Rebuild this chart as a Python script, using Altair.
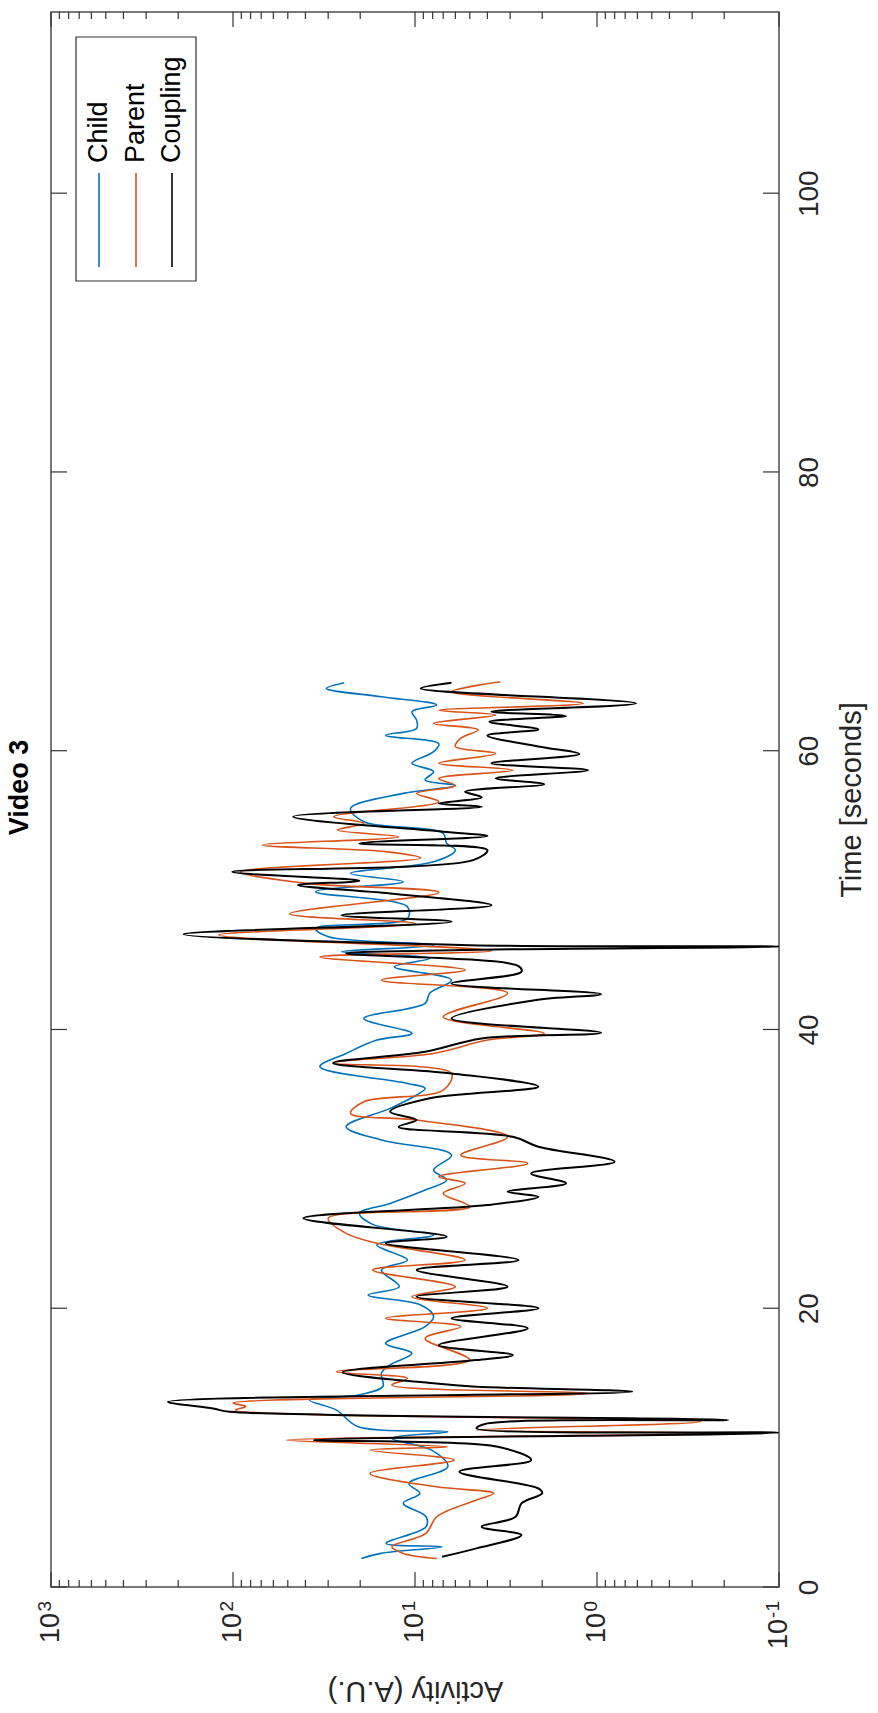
import altair as alt
import pandas as pd

# ---------------- data ----------------
child_t = [2.05, 2.41, 2.89, 3.13, 4.32, 5.04, 6.0, 6.72, 7.43, 8.63,
           9.82, 10.66, 11.14, 11.5, 12.69, 13.41, 13.8, 14.4, 15.33, 15.93,
           16.77, 17.48, 18.68, 19.4, 20.23, 20.95, 21.55, 22.74, 23.46, 24.54,
           25.25, 26.0, 26.81, 27.52, 28.48, 29.2, 29.91, 30.99, 32.07, 33.02,
           34.34, 35.3, 35.77, 36.13, 37.33, 38.28, 39.24, 39.72, 40.79, 41.87,
           42.6, 43.54, 44.5, 45.1, 45.57, 46.05, 46.65, 47.25, 47.97, 48.8,
           49.88, 50.6, 51.2, 52.03, 52.87, 53.35, 54.07, 54.9, 55.86, 56.94,
           57.5, 57.9, 58.5, 59.1, 59.93, 60.5, 61.1, 61.6, 62.2, 62.8,
           63.28, 63.87, 64.47, 64.88]
child_v = [19.7, 15.4, 7.1, 14.4, 8.7, 8.7, 11.6, 9.4, 10.8, 6.6,
           8.1, 13.4, 6.6, 20.5, 27, 38, 20, 15, 15.3, 13.7,
           10.4, 14.5, 8.8, 7.9, 9.3, 18.1, 12.2, 15.3, 11.0, 16.2,
           7.9, 17, 20.2, 13.7, 8.8, 6.7, 7.9, 6.3, 15.3, 23.9,
           13.7, 9.8, 8.8, 11.0, 33.3, 23.9, 16.2, 10.4, 19.1, 8.8,
           8.3, 6.3, 13.0, 8.3, 25.3, 7.9, 29.9, 35.2, 11.0, 11.0,
           35.2, 11.6, 22.6, 7.9, 6.0, 6.7, 7.0, 19.1, 22.6, 11.6,
           6.0, 8.8, 7.9, 10.4, 7.9, 7.4, 14.5, 9.8, 9.8, 10.4,
           7.6, 15.3, 30.7, 24.5]

parent_t = [2.05, 2.41, 2.89, 3.85, 5.04, 6.24, 6.72, 7.19, 8.15, 9.11,
            9.82, 10.06, 10.54, 11.02, 11.26, 11.86, 12.69, 12.95, 13.2, 13.89,
            14.49, 14.97, 15.45, 16.29, 17.84, 18.68, 19.28, 20.0, 20.83, 21.55,
            22.74, 23.46, 24.66, 25.37, 26.45, 27.28, 28.24, 28.96, 29.44, 30.39,
            30.99, 32.3, 33.5, 33.98, 34.82, 35.65, 36.85, 37.6, 38.28, 39.24,
            39.72, 40.91, 42.6, 43.54, 44.26, 45.2, 45.65, 46.77, 47.6, 48.3,
            49.83, 50.48, 51.31, 52.3, 52.76, 53.23, 53.83, 54.31, 54.79, 55.27,
            56.34, 56.94, 57.5, 58.0, 58.6, 59.1, 59.8, 60.3, 60.9, 61.5,
            61.96, 62.56, 62.9, 63.4, 64.23, 64.95]
parent_v = [7.6, 11.6, 13.4, 8.7, 7.6, 4.6, 3.7, 7.6, 17.7, 6.1,
            17.7, 6.6, 51, 0.19, 4.6, 0.27, 97, 85, 100, 1.12,
            13.4, 11.0, 27, 5.0, 8.8, 5.6, 14.5, 4.0, 10.4, 6.0,
            17.1, 5.3, 16.2, 23.9, 30, 5.0, 7.0, 5.3, 7.4, 2.4,
            5.6, 3.1, 9.8, 22.6, 19.1, 7.0, 6.3, 28, 7.9, 4.0,
            1.95, 7.0, 3.1, 15.3, 5.3, 33.3, 3.8, 120, 10, 49,
            7.4, 39.4, 91, 9.3, 14.5, 69, 12.3, 26.7, 19.1, 28,
            7.4, 9.8, 6.0, 7.4, 2.9, 7.4, 3.6, 6.0, 5.6, 4.5,
            7.9, 3.6, 7.4, 1.19, 6.3, 3.4]

coupling_t = [2.17, 2.77, 3.73, 4.32, 5.04, 6.0, 6.72, 7.07, 8.27, 9.11,
              10.06, 10.54, 11.07, 11.38, 11.74, 11.98, 12.57, 12.81, 13.29, 14.01,
              14.37, 14.61, 15.4, 16.28, 16.65, 17.36, 18.56, 19.28, 20.0, 20.83,
              21.55, 22.74, 23.46, 24.66, 25.13, 26.45, 27.4, 28.0, 28.36, 28.96,
              29.67, 30.51, 31.59, 32.3, 33.02, 33.5, 34.1, 35.06, 35.9, 36.85,
              37.6, 38.4, 39.36, 39.76, 40.79, 42.1, 42.54, 43.3, 44.14, 44.55,
              45.45, 45.7, 45.95, 46.05, 46.84, 47.73, 48.2, 48.92, 49.76, 50.36,
              50.67, 51.31, 52.15, 52.87, 53.35, 53.88, 54.19, 55.27, 55.98, 56.22,
              56.65, 57.06, 57.6, 58.02, 58.6, 59.1, 59.76, 60.3, 61.1, 61.53,
              62.08, 62.49, 62.8, 63.4, 64.47, 64.88]
coupling_v = [7.1, 4.6, 2.6, 4.3, 2.8, 2.6, 2.0, 2.1, 5.7, 2.3,
              3.5, 36, 0.1, 4.6, 4.0, 0.19, 104, 129, 228, 0.64,
              4.6, 7.9, 25, 4.6, 2.9, 7.4, 2.4, 6.3, 2.1, 9.8,
              3.1, 9.8, 2.7, 14.5, 6.7, 41, 4.0, 2.1, 3.1, 1.48,
              2.3, 0.8, 2.1, 2.9, 12.3, 9.8, 13.7, 8.3, 2.1, 6.3,
              28.2, 8.8, 4.3, 0.95, 6.3, 2.2, 0.95, 6.3, 2.6, 2.7,
              23.9, 5.6, 0.1, 5.0, 187, 6.3, 25.3, 3.8, 13.7, 44,
              20.2, 101, 4.8, 4.0, 20.2, 4.0, 7.0, 46.6, 4.3, 7.4,
              4.3, 5.3, 1.95, 3.6, 1.12, 3.8, 1.25, 2.1, 4.0, 2.1,
              3.9, 1.48, 3.8, 0.61, 9.3, 6.3]

series_names = ["Child", "Parent", "Coupling"]
series_colors = ["#0072BD", "#D95319", "#000000"]

log_major = [0.1, 1, 10, 100, 1000]
log_exponents = ["-1", "0", "1", "2", "3"]
log_minor = [0.2, 0.3, 0.4, 0.5, 0.6, 0.7, 0.8, 0.9,
             2, 3, 4, 5, 6, 7, 8, 9,
             20, 30, 40, 50, 60, 70, 80, 90,
             200, 300, 400, 500, 600, 700, 800, 900]
time_ticks = [0, 20, 40, 60, 80, 100]
time_domain = [0, 113]

# ---------------- layout ----------------
W, H = 728, 1575
FONT = "Liberation Sans"
TXT = "#262626"
TICK = "#333333"

xs = alt.Scale(type="log", domain=[0.1, 1000], reverse=True, nice=False)
ys = alt.Scale(domain=time_domain, nice=False, zero=False)

x_axis = alt.Axis(title="Activity (A.U.)", labels=False, ticks=False, domain=False,
                  grid=False, titleAngle=180, titleBaseline="bottom", titlePadding=88,
                  titleFontSize=29, titleFont=FONT, titleFontWeight="normal",
                  titleColor=TXT)
y_axis = alt.Axis(orient="right", title="Time [seconds]", values=time_ticks, format="d",
                  ticks=False, domain=False, grid=False, labelAngle=270,
                  labelAlign="center", labelBaseline="top", labelPadding=16,
                  labelFontSize=28, labelFont=FONT, labelColor=TXT, labelFlush=False,
                  labelOverlap=False, titleAngle=270, titleBaseline="top",
                  titlePadding=14, titleFontSize=29, titleFont=FONT,
                  titleFontWeight="normal", titleColor=TXT)

X = alt.X("v:Q", scale=xs, axis=x_axis)
Y = alt.Y("t:Q", scale=ys, axis=y_axis)


def series_layer(t, v, color, width):
    df = pd.DataFrame({"t": t, "v": v})
    return alt.Chart(df).mark_line(color=color, strokeWidth=width, clip=True,
                                   interpolate="catmull-rom",
                                   strokeJoin="round").encode(x=X, y=Y, order="t:Q")


child = series_layer(child_t, child_v, series_colors[0], 1.6)
parent = series_layer(parent_t, parent_v, series_colors[1], 1.6)
coupling = series_layer(coupling_t, coupling_v, series_colors[2], 2.0)

major_df = pd.DataFrame({"v": log_major})
minor_df = pd.DataFrame({"v": log_minor})
time_df = pd.DataFrame({"t": time_ticks})


def xtick(df, y0, y1):
    return alt.Chart(df).mark_rule(color=TICK, strokeWidth=1.2).encode(
        x=X, y=alt.value(y0), y2=alt.value(y1))


def ytick(x0, x1):
    return alt.Chart(time_df).mark_rule(color=TICK, strokeWidth=1.2).encode(
        y=Y, x=alt.value(x0), x2=alt.value(x1))


ticks = [
    xtick(major_df, H, H - 15), xtick(major_df, 0, 15),
    xtick(minor_df, H, H - 7), xtick(minor_df, 0, 7),
    ytick(W, W - 16), ytick(0, 16),
]

lab_df = pd.DataFrame({"v": log_major, "e": log_exponents})
exp_labels = alt.Chart(lab_df).mark_text(
    angle=270, align="right", baseline="alphabetic", fontSize=19, font=FONT, color=TXT
).encode(x=X, y=alt.value(H + 14), text="e:N")
base_labels_pos = alt.Chart(lab_df).transform_filter("datum.v >= 1").mark_text(
    angle=270, align="right", baseline="middle", fontSize=27, font=FONT, color=TXT, dx=-12
).encode(x=X, y=alt.value(H + 14), text=alt.value("10"))
base_labels_neg = alt.Chart(lab_df).transform_filter("datum.v < 1").mark_text(
    angle=270, align="right", baseline="middle", fontSize=27, font=FONT, color=TXT, dx=-18
).encode(x=X, y=alt.value(H + 14), text=alt.value("10"))

# ---------------- legend (rotated, drawn by hand) ----------------
one = pd.DataFrame({"k": [0]})
legend_box = alt.Chart(one).mark_rect(fill="white", stroke="#333333", strokeWidth=1.2).encode(
    x=alt.value(25), x2=alt.value(145), y=alt.value(25), y2=alt.value(269))
legend_layers = [legend_box]
legend_x = [48, 85, 121]
for name, color, lx in zip(series_names, series_colors, legend_x):
    legend_layers.append(
        alt.Chart(one).mark_rule(color=color, strokeWidth=1.6).encode(
            x=alt.value(lx), y=alt.value(161), y2=alt.value(255)))
    legend_layers.append(
        alt.Chart(one).mark_text(angle=270, align="left", baseline="middle",
                                 fontSize=27, font=FONT, color="black").encode(
            x=alt.value(lx), y=alt.value(151), text=alt.value(name)))

chart = alt.layer(
    child, parent, coupling, *ticks, exp_labels, base_labels_pos, base_labels_neg,
    *legend_layers
).properties(
    width=W, height=H,
    title=alt.TitleParams(text="Video 3", orient="left", anchor="middle", font=FONT,
                          fontSize=27, fontWeight="bold", color="black", offset=2,
                          frame="group", dx=12),
    autosize=alt.AutoSizeParams(type="none"),
    padding={"left": 51, "top": 12, "right": 99, "bottom": 126},
    background="white",
).configure_view(stroke="#4d4d4d", strokeWidth=1.5)

chart.save("out.html", embed_options={"renderer": "svg", "actions": False})
